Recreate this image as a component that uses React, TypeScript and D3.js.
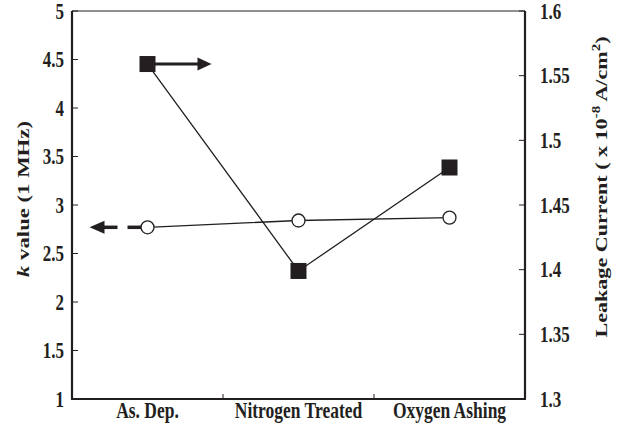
import React from "react";
import * as d3 from "d3";

const categories = ["As. Dep.", "Nitrogen Treated", "Oxygen Ashing"];
const kValues = [2.77, 2.84, 2.87];
const leakageValues = [1.559, 1.399, 1.479];
const leftTicks = [1, 1.5, 2, 2.5, 3, 3.5, 4, 4.5, 5];
const rightTicks = [1.3, 1.35, 1.4, 1.45, 1.5, 1.55, 1.6];

const W = 619;
const H = 435;
const M = { left: 72, right: 525, top: 11, bottom: 399 };
const FONT = "'Liberation Serif', 'DejaVu Serif', serif";
const INK = "#231f20";
// glyphs are drawn taller than wide
const STRETCH = 1.3;

export default function App() {
  const x = d3.scaleBand<string>().domain(categories).range([M.left, M.right]);
  const yL = d3.scaleLinear().domain([1, 5]).range([M.bottom, M.top]);
  const yR = d3.scaleLinear().domain([1.3, 1.6]).range([M.bottom, M.top]);
  const cx = (c: string) => (x(c) as number) + x.bandwidth() / 2;

  const kLine = d3
    .line<number>()
    .x((_, i) => cx(categories[i]))
    .y((d) => yL(d));
  const leakLine = d3
    .line<number>()
    .x((_, i) => cx(categories[i]))
    .y((d) => yR(d));

  const sq = 16;
  const r = 6.5;

  const ax0 = cx(categories[0]);
  const ayR = yR(leakageValues[0]);
  const ayL = yL(kValues[0]);

  return (
    <svg
      width={W}
      height={H}
      style={{ position: "absolute", left: 0, top: 0, background: "#fff" }}
      fontFamily={FONT}
      fontWeight="bold"
    >
      {/* frame */}
      <line x1={M.left} x2={M.right} y1={M.top} y2={M.top} stroke={INK} strokeWidth={1} />
      <line x1={M.left} x2={M.left} y1={M.top} y2={M.bottom} stroke={INK} strokeWidth={2.2} />
      <line x1={M.right} x2={M.right} y1={M.top} y2={M.bottom} stroke={INK} strokeWidth={2.2} />
      <line x1={M.left - 1} x2={M.right + 1} y1={M.bottom} y2={M.bottom} stroke={INK} strokeWidth={2.2} />

      {/* left axis */}
      {leftTicks.map((t) => (
        <g key={"l" + t}>
          <line x1={M.left} x2={M.left + 6} y1={yL(t)} y2={yL(t)} stroke={INK} strokeWidth={1} />
          <text
            transform={`translate(${M.left - 8},${yL(t)}) scale(1,${STRETCH})`}
            dy="0.35em"
            textAnchor="end"
            fontSize={17}
            fill={INK}
          >
            {t}
          </text>
        </g>
      ))}
      <text
        transform={`translate(23,199) scale(1,${STRETCH}) rotate(-90)`}
        textAnchor="middle"
        dy="0.35em"
        fontSize={17.5}
        fill={INK}
      >
        <tspan fontStyle="italic">k</tspan> value (1 MHz)
      </text>

      {/* right axis */}
      {rightTicks.map((t) => (
        <g key={"r" + t}>
          <line x1={M.right - 6} x2={M.right} y1={yR(t)} y2={yR(t)} stroke={INK} strokeWidth={1} />
          <text
            transform={`translate(${M.right + 15},${yR(t)}) scale(1,${STRETCH})`}
            dy="0.35em"
            textAnchor="start"
            fontSize={17}
            fill={INK}
          >
            {t}
          </text>
        </g>
      ))}
      <text
        transform={`translate(601,187) scale(1,${STRETCH}) rotate(-90)`}
        textAnchor="middle"
        dy="0.35em"
        fontSize={17}
        fill={INK}
      >
        Leakage Current ( x 10
        <tspan dy="-7" fontSize={11.5}>-8</tspan>
        <tspan dy="7"> A/cm</tspan>
        <tspan dy="-7" fontSize={11.5}>2</tspan>
        <tspan dy="7">)</tspan>
      </text>

      {/* bottom axis: category boundaries */}
      {categories.slice(1).map((c) => (
        <line
          key={"b" + c}
          x1={x(c) as number}
          x2={x(c) as number}
          y1={M.bottom}
          y2={M.bottom - 5}
          stroke={INK}
          strokeWidth={1}
        />
      ))}
      {categories.map((c) => (
        <text
          key={"c" + c}
          transform={`translate(${cx(c)},418) scale(1,${STRETCH})`}
          textAnchor="middle"
          fontSize={17.5}
          fill={INK}
        >
          {c}
        </text>
      ))}

      {/* series lines */}
      <path d={kLine(kValues) as string} fill="none" stroke={INK} strokeWidth={1.3} />
      <path d={leakLine(leakageValues) as string} fill="none" stroke={INK} strokeWidth={1.3} />

      {/* arrow toward the right axis */}
      <line x1={ax0} x2={ax0 + 52} y1={ayR} y2={ayR} stroke={INK} strokeWidth={3} />
      <path
        d={`M${ax0 + 50},${ayR - 6.5} L${ax0 + 64},${ayR} L${ax0 + 50},${ayR + 6.5} Z`}
        fill={INK}
      />

      {/* dashed arrow toward the left axis */}
      <line x1={ax0 - 6} x2={ax0 - 20} y1={ayL} y2={ayL} stroke={INK} strokeWidth={3.5} />
      <line x1={ax0 - 30} x2={ax0 - 44} y1={ayL} y2={ayL} stroke={INK} strokeWidth={3.5} />
      <path
        d={`M${ax0 - 43},${ayL - 6.5} L${ax0 - 58},${ayL} L${ax0 - 43},${ayL + 6.5} Z`}
        fill={INK}
      />

      {/* markers */}
      {kValues.map((v, i) => (
        <circle
          key={"k" + i}
          cx={cx(categories[i])}
          cy={yL(v)}
          r={r}
          fill="#fff"
          stroke={INK}
          strokeWidth={1.3}
        />
      ))}
      {leakageValues.map((v, i) => (
        <rect
          key={"q" + i}
          x={cx(categories[i]) - sq / 2}
          y={yR(v) - sq / 2}
          width={sq}
          height={sq}
          fill={INK}
        />
      ))}
    </svg>
  );
}
